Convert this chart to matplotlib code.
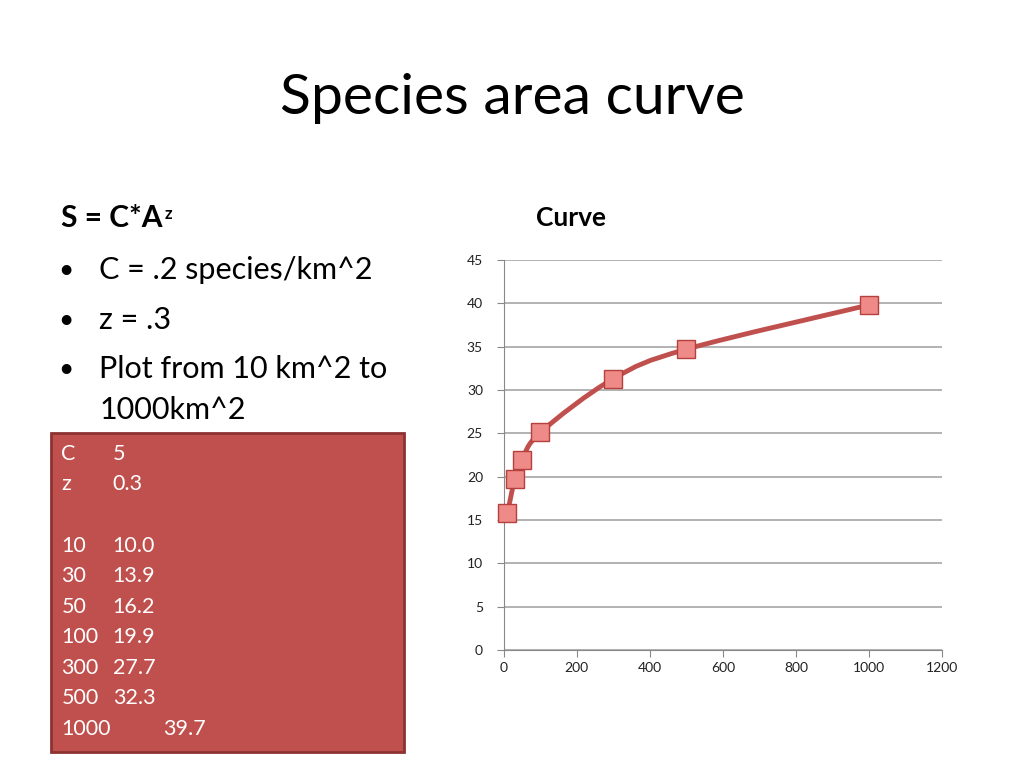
import numpy as np
import matplotlib.pyplot as plt
from matplotlib.path import Path
from matplotlib.patches import PathPatch, Rectangle

# plotted curve values
area = [10, 30, 50, 100, 300, 500, 1000]
species = [15.8, 19.7, 21.9, 25.1, 31.3, 34.7, 39.8]

# table in the red box
tbl_area = ['10', '30', '50', '100', '300', '500', '1000']
tbl_species = ['10.0', '13.9', '16.2', '19.9', '27.7', '32.3', '39.7']

x_ticks = [0, 200, 400, 600, 800, 1000, 1200]
y_ticks = [0, 5, 10, 15, 20, 25, 30, 35, 40, 45]

RED = '#C0504D'
FONT = ['Lato', 'DejaVu Sans']
plt.rcParams['font.family'] = FONT

fig = plt.figure(figsize=(10.24, 7.68), dpi=100)

# chart
ax = fig.add_axes([0.492, 0.1536, 0.428, 0.508])

# title and left-hand text
fig.text(0.5, 0.872, 'Species area curve', ha='center', va='center', fontsize=41)
head = fig.text(0.060, 0.716, 'S = C*A', ha='left', va='center', fontsize=21.5,
                fontweight='bold')
ax.annotate('z', xy=(1.0, 0.95), xycoords=head, xytext=(1, 0), textcoords='offset points',
            ha='left', va='top', fontsize=12, fontweight='bold', annotation_clip=False)
bullets = [('C = .2 species/km^2', 0.648), ('z = .3', 0.583),
           ('Plot from 10 km^2 to', 0.519), ('1000km^2', 0.466)]
for i, (s, y) in enumerate(bullets):
    if i < 3:
        fig.text(0.057, y, '\u2022', ha='left', va='center', fontsize=19)
    fig.text(0.097, y, s, ha='left', va='center', fontsize=22)

# red box with table
box = Rectangle((0.050, 0.021), 0.345, 0.415, transform=fig.transFigure,
                facecolor=RED, edgecolor='#8C3331', linewidth=2)
fig.patches.append(box)
rows = [('C', '5'), ('z', '0.3'), ('', '')] + list(zip(tbl_area, tbl_species))
for i, (a, b) in enumerate(rows):
    y = 0.409 - i * 0.0398
    fig.text(0.060, y, a, color='white', fontsize=15.5, va='center', ha='left')
    bx = 0.159 if a == '1000' else 0.110
    fig.text(bx, y, b, color='white', fontsize=15.5, va='center', ha='left')

fig.text(0.558, 0.716, 'Curve', ha='center', va='center', fontsize=19, fontweight='bold')

ax.set_xlim(0, 1200)
ax.set_ylim(0, 45)
ax.set_xticks(x_ticks)
ax.set_yticks(y_ticks)
ax.grid(axis='y', color='#A6A6A6', linewidth=1.2)
ax.set_axisbelow(True)
for side in ['top', 'right']:
    ax.spines[side].set_visible(False)
for side in ['left', 'bottom']:
    ax.spines[side].set_color('#888888')
ax.tick_params(colors='#888888', length=5, labelcolor='#222222', labelsize=10)
ax.tick_params(axis='y', pad=10)

# smoothed line (cardinal spline through the points)
x = np.array(area, float)
y = np.array(species, float)
xp = np.concatenate([[x[0]], x, [x[-1]]])
yp = np.concatenate([[y[0]], y, [y[-1]]])
verts = [(x[0], y[0])]
codes = [Path.MOVETO]
for i in range(1, len(xp) - 2):
    c1 = (xp[i] + (xp[i + 1] - xp[i - 1]) / 6, yp[i] + (yp[i + 1] - yp[i - 1]) / 6)
    c2 = (xp[i + 1] - (xp[i + 2] - xp[i]) / 6, yp[i + 1] - (yp[i + 2] - yp[i]) / 6)
    verts += [c1, c2, (xp[i + 1], yp[i + 1])]
    codes += [Path.CURVE4] * 3
ax.add_patch(PathPatch(Path(verts, codes), facecolor='none', edgecolor=RED,
                       linewidth=3.5, capstyle='round', clip_on=False))
ax.plot(area, species, linestyle='none', marker='s', markersize=13.5,
        markerfacecolor='#EE8A87', markeredgecolor='#B5403D', markeredgewidth=1,
        clip_on=False, zorder=5)

fig.savefig('out.png', dpi=100)
